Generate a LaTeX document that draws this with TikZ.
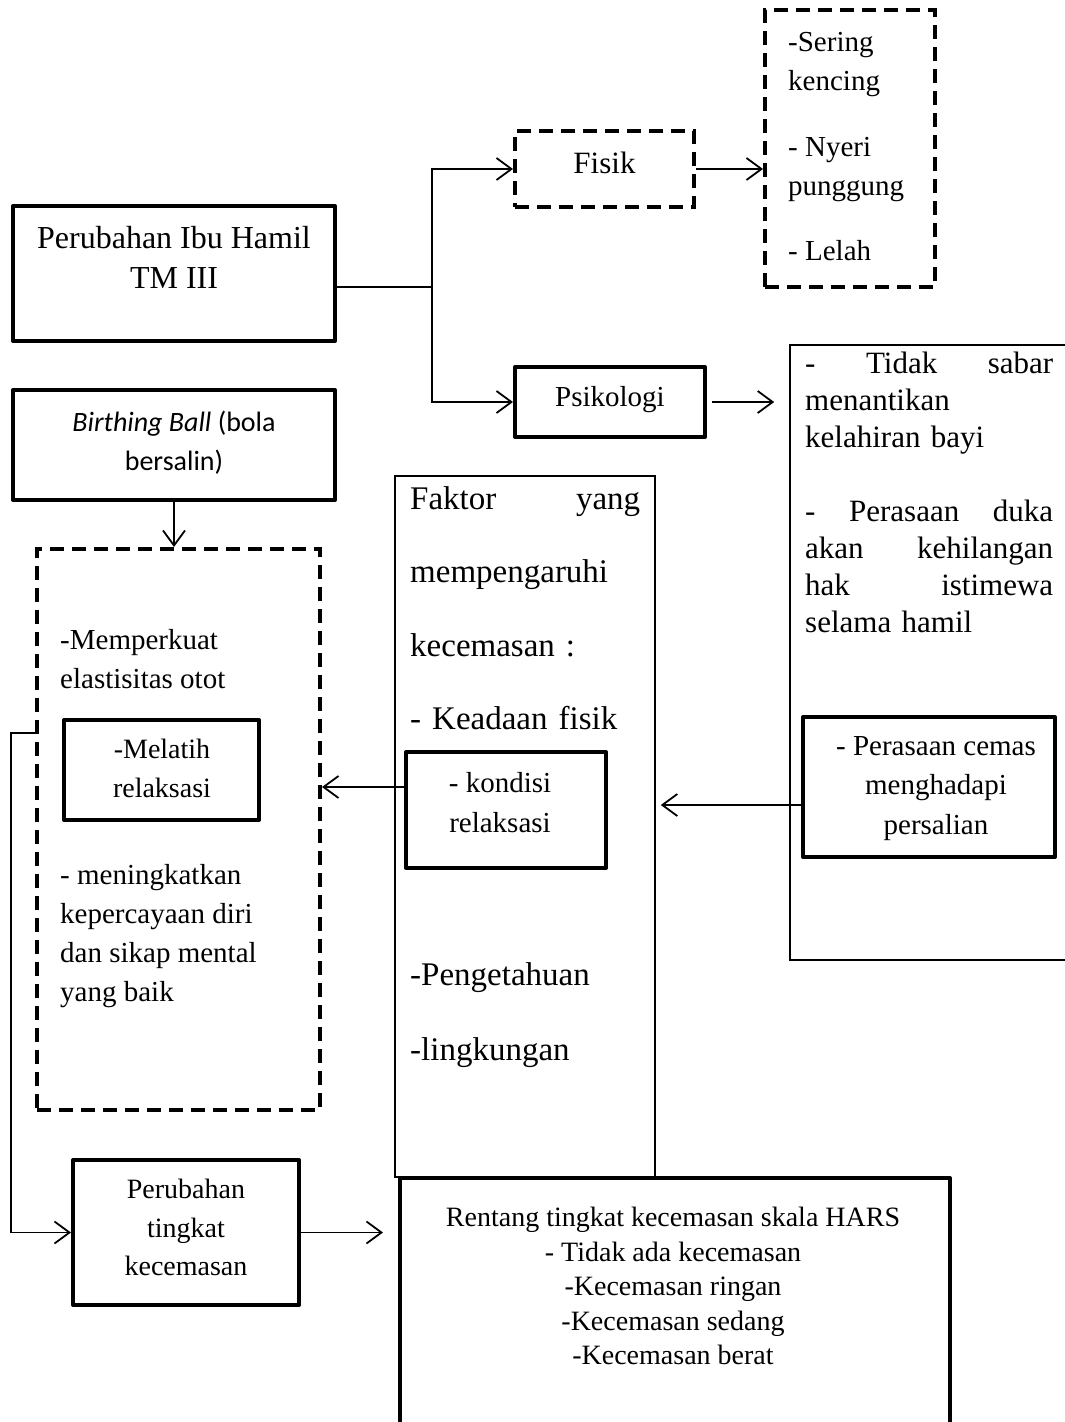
\documentclass[tikz,border=0pt]{standalone}
\usepackage{fontspec}
\setmainfont{Liberation Serif}
\newfontfamily\calibri{Carlito}
\usetikzlibrary{arrows.meta}
\newcommand\fsz[2]{\fontsize{#1}{#2}\selectfont}

\tikzset{
	boxthick/.style = {draw, line width=4pt, line join=round, inner sep=0pt},
	boxthin/.style = {draw, line width=1.6pt, inner sep=0pt},
	boxdash/.style = {draw, line width=4pt, dash pattern=on 14pt off 8pt, inner sep=0pt},
	conn/.style = {line width=1.8pt},
	txtl/.style = {inner sep=0pt, anchor=north west, align=left},
	txtc/.style = {inner sep=0pt, anchor=north, align=center}
}

\begin{document}
\begin{tikzpicture}[x=1pt, y=-1pt, >={Straight Barb[length=15pt,width=22pt]}]
		\useasboundingbox (0,0) rectangle (1065,1422);

		% boxes
		\node[boxthick, minimum width=322pt, minimum height=135pt] (ibu) at (174,273.5) {};
		\node[boxdash, minimum width=179pt, minimum height=76pt, text depth=12pt, font=\fsz{31}{37}] (fisik) at (604.5,169) {Fisik};
		\node[boxdash, minimum width=170pt, minimum height=277pt] (gejala) at (850,148.5) {};
		\node[boxthick, minimum width=190pt, minimum height=70pt, text depth=12pt, font=\fsz{29}{35}] (psiko) at (610,402) {Psikologi};
		\node[boxthin, minimum width=280pt, minimum height=615pt] (psikoList) at (930,652.5) {};
		\node[boxthick, minimum width=252pt, minimum height=140pt] (cemas) at (929,787) {};
		\node[boxthin, minimum width=260pt, minimum height=701pt] (faktor) at (525,826.5) {};
		\node[boxthick, minimum width=200pt, minimum height=116pt] (kondisi) at (506,810) {};
		\node[boxthick, minimum width=322pt, minimum height=110pt] (ball) at (174,445) {};
		\node[boxdash, minimum width=283pt, minimum height=561pt] (manfaat) at (178.5,829.5) {};
		\node[boxthick, minimum width=195pt, minimum height=100pt] (melatih) at (161.5,770) {};
		\node[boxthick, minimum width=226pt, minimum height=145pt] (perubahan) at (186,1232.5) {};
		\node[boxthick, minimum width=550pt, minimum height=252pt] (hars) at (675,1304) {};

		% texts
		\node[txtc, font=\fsz{32}{40}] (ibuT) at (174,226) {Perubahan Ibu Hamil\\TM III};
		\node[txtl, font=\fsz{29}{39}] (gejalaT) at (788,32) {-Sering\\kencing\\[27pt]- Nyeri\\punggung\\[26pt]- Lelah};
		\node[txtl, text width=248pt, font=\fsz{31}{37}] (psikoListT) at (805,352)
			{-\hfill Tidak\hfill sabar\\menantikan\\kelahiran bayi\\[37pt]
			 -\hfill Perasaan\hfill duka\\akan\hfill kehilangan\\hak\hfill istimewa\\selama hamil};
		\node[txtc, font=\fsz{29}{39.5}] (cemasT) at (936,736) {- Perasaan cemas\\menghadapi\\persalian};
		\node[txtl, text width=230pt, font=\fsz{33}{73.5}] (faktorT) at (410,486)
			{Faktor\hfill yang\\mempengaruhi\\kecemasan :\\- Keadaan fisik\\[182.5pt]-Pengetahuan\\[1.5pt]-lingkungan};
		\node[txtc, font=\fsz{29}{40}] (kondisiT) at (500,772) {- kondisi\\relaksasi};
		\node[txtc, font=\calibri\fsz{28}{39}] (ballT) at (174,411) {\textit{Birthing Ball} (bola\\bersalin)};
		\node[txtl, font=\fsz{29}{39}] (manfaatT) at (60,629)
			{-Memperkuat\\elastisitas otot\\[157pt]- meningkatkan\\kepercayaan diri\\dan sikap mental\\yang baik};
		\node[txtc, font=\fsz{28}{39}] (melatihT) at (162,739) {-Melatih\\relaksasi};
		\node[txtc, font=\fsz{28}{38.5}] (perubahanT) at (186,1179) {Perubahan\\tingkat\\kecemasan};
		\node[txtc, font=\fsz{28}{34.5}] (harsT) at (673,1207)
			{Rentang tingkat kecemasan skala HARS\\- Tidak ada kecemasan\\-Kecemasan ringan\\-Kecemasan sedang\\-Kecemasan berat};

		% arrows
		\coordinate (split) at (432,287);
		\draw[conn] (ibu.east |- split) -- (split);
		\draw[conn, ->] (split) |- (fisik.west);
		\draw[conn, ->] (split) |- (psiko.west);
		\draw[conn, ->] (fisik.east) -- (fisik.east -| gejala.west);
		\draw[conn, ->] ([xshift=5pt]psiko.east) -- ([xshift=-15pt]psiko.east -| psikoList.west);
		\draw[conn, ->] ([yshift=-18pt]cemas.west) -- ([xshift=5pt, yshift=-18pt]cemas.west -| faktor.east);
		\draw[conn, ->] ([yshift=23pt]kondisi.west) -- ([yshift=23pt]kondisi.west -| manfaat.east);
		\draw[conn, ->] (ball.south) -- (ball.south |- manfaat.north);
		\draw[conn, ->] ([yshift=96.5pt]manfaat.west) -- ++(-24,0) |- (perubahan.west);
		\draw[conn, ->] (perubahan.east) -- ([xshift=-15pt]perubahan.east -| hars.west);

	\end{tikzpicture}
\end{document}
